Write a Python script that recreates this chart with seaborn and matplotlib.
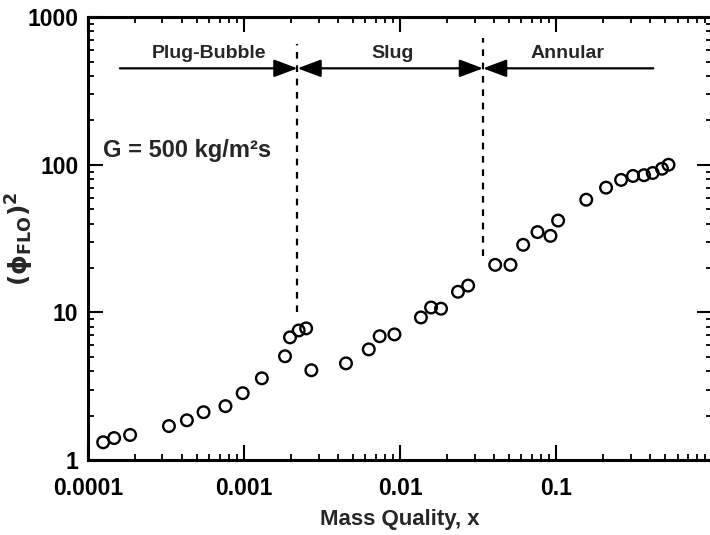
import matplotlib
matplotlib.use("Agg")
import matplotlib.pyplot as plt
import seaborn as sns
import pandas as pd

# Data (log-log)
mass_quality = [1.25e-4, 1.47e-4, 1.86e-4, 3.3e-4, 4.3e-4, 5.5e-4, 7.6e-4, 9.8e-4,
                1.30e-3, 1.83e-3, 1.97e-3, 2.24e-3, 2.5e-3, 2.7e-3, 4.5e-3,
                6.3e-3, 7.4e-3, 9.2e-3, 0.0136, 0.0158, 0.0183, 0.0235, 0.0273,
                0.0407, 0.051, 0.0615, 0.076, 0.092, 0.103, 0.156, 0.209, 0.261,
                0.311, 0.366, 0.416, 0.477, 0.525]
phi_flo_sq = [1.32, 1.41, 1.48, 1.70, 1.86, 2.11, 2.32, 2.84,
              3.58, 5.05, 6.78, 7.55, 7.8, 4.06, 4.52,
              5.62, 6.9, 7.1, 9.25, 10.8, 10.6, 13.8, 15.2,
              21.0, 21.0, 28.7, 35.0, 33.0, 41.9, 58.0, 70.0, 79.0,
              84.0, 85.0, 88.0, 94.0, 100.0]

# Flow regime boundaries
regime_names = ["Plug-Bubble", "Slug", "Annular"]
regime_label_x = [6.0e-4, 9.0e-3, 0.118]
regime_edges = [1.6e-4, 2.2e-3, 0.034, 0.42]
boundary_bottom = [10.0, 24.0]
boundary_top = [660.0, 720.0]

df = pd.DataFrame({"x": mass_quality, "phi2": phi_flo_sq})

sns.set_style("ticks")
plt.rcParams["font.family"] = ["Liberation Sans", "DejaVu Sans"]
plt.rcParams["font.weight"] = "bold"
plt.rcParams["mathtext.fontset"] = "dejavusans"

fig = plt.figure(figsize=(7.10, 5.35), dpi=100)
ax = fig.add_axes([0.124, 0.140, 0.879, 0.828])

sns.scatterplot(data=df, x="x", y="phi2", ax=ax, marker="o", s=70,
                facecolors="none", edgecolor="black", linewidth=1.7, zorder=3)

ax.set_xscale("log")
ax.set_yscale("log")
ax.set_xlim(1e-4, 1)
ax.set_ylim(1, 1000)

ax.set_xticks([1e-4, 1e-3, 1e-2, 1e-1])
ax.set_xticklabels(["0.0001", "0.001", "0.01", "0.1"])
ax.set_yticks([1, 10, 100, 1000])
ax.set_yticklabels(["1", "10", "100", "1000"])

ax.tick_params(which="both", direction="in", top=True, right=True, colors="black")
ax.tick_params(which="major", length=11, width=1.5, labelsize=16.5)
ax.tick_params(axis="x", which="major", pad=12)
ax.tick_params(axis="y", which="major", pad=7)
ax.tick_params(which="minor", length=4, width=1.3)
for lab in ax.get_xticklabels() + ax.get_yticklabels():
    lab.set_fontweight("heavy")
for sp in ax.spines.values():
    sp.set_linewidth(2.2)
    sp.set_color("black")

ax.set_xlabel("Mass Quality, x", fontsize=16, fontweight="heavy")
ax.xaxis.set_label_coords(0.5, -0.11)
ax.set_ylabel(r"$(\mathbf{\phi}_{\mathbf{FLO}})^{\mathbf{2}}$", fontsize=18)
ax.yaxis.set_label_coords(-0.083, 0.5)

# regime boundaries
for xb, yb, yt in zip(regime_edges[1:3], boundary_bottom, boundary_top):
    ax.plot([xb, xb], [yb, yt], color="black", linestyle=(0, (3, 3)), linewidth=1.6)

# regime arrows
arrow_y = 450
head = dict(color="black", linewidth=1.6, shrinkA=0, shrinkB=0,
            mutation_scale=18)
ax.annotate("", xy=(regime_edges[1], arrow_y), xytext=(regime_edges[0], arrow_y),
            arrowprops=dict(arrowstyle="-|>,head_length=0.8,head_width=0.3", **head))
ax.annotate("", xy=(regime_edges[2], arrow_y), xytext=(regime_edges[1], arrow_y),
            arrowprops=dict(arrowstyle="<|-|>,head_length=0.8,head_width=0.3", **head))
ax.annotate("", xy=(regime_edges[2], arrow_y), xytext=(regime_edges[3], arrow_y),
            arrowprops=dict(arrowstyle="-|>,head_length=0.8,head_width=0.3", **head))

for name, xl in zip(regime_names, regime_label_x):
    ax.text(xl, 500, name, ha="center", va="bottom", fontsize=14, fontweight="heavy")

ax.text(1.25e-4, 124, "G = 500 kg/m\u00b2s", ha="left", va="center",
        fontsize=17, fontweight="heavy")

fig.savefig("out.png", dpi=100)
